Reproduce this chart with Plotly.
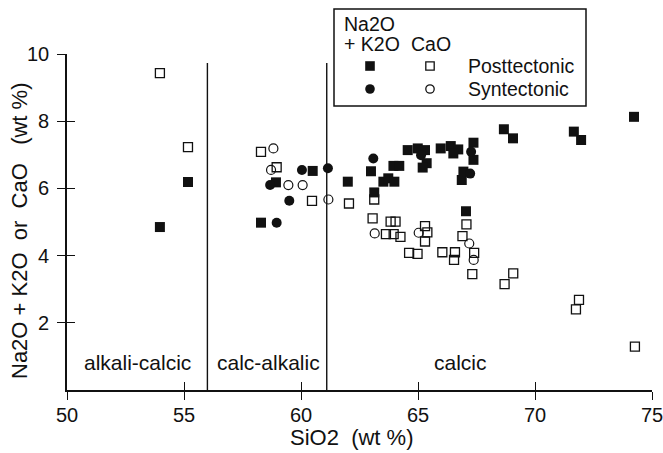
import plotly.graph_objects as go

# ---------------- data ----------------
# Posttectonic, Na2O + K2O (filled squares)
post_alk_sio2 = [53.97, 55.17, 58.29, 58.93, 60.50, 62.00, 62.99, 63.13, 63.52, 63.73,
                 63.99, 63.95, 64.20, 64.56, 64.99, 65.30, 65.37, 65.20, 65.97, 66.40,
                 66.72, 66.51, 67.37, 67.37, 66.94, 66.87, 67.05, 68.67, 69.06, 71.66,
                 71.97, 74.23]
post_alk = [4.85, 6.19, 4.98, 6.18, 6.52, 6.20, 6.51, 5.88, 6.20, 6.30,
            6.20, 6.67, 6.67, 7.14, 7.19, 7.14, 6.75, 6.62, 7.19, 7.26,
            7.16, 7.04, 7.36, 6.85, 6.50, 6.25, 5.32, 7.76, 7.49, 7.69,
            7.44, 8.13]

# Posttectonic, CaO (open squares)
post_cao_sio2 = [53.97, 55.17, 58.29, 58.96, 60.47, 62.05, 63.13, 63.06, 63.83, 64.04,
                 63.63, 63.96, 64.25, 65.30, 65.40, 65.30, 64.62, 64.98, 66.04, 66.58,
                 66.54, 67.07, 66.90, 67.40, 67.32, 69.07, 68.70, 71.88, 71.75, 74.27]
post_cao = [9.43, 7.23, 7.09, 6.63, 5.63, 5.55, 5.67, 5.11, 5.01, 5.01,
            4.64, 4.64, 4.56, 4.88, 4.69, 4.42, 4.08, 4.05, 4.10, 4.10,
            3.87, 4.93, 4.58, 4.08, 3.45, 3.47, 3.15, 2.68, 2.40, 1.29]

# Syntectonic, Na2O + K2O (filled circles)
syn_alk_sio2 = [58.68, 59.50, 58.96, 60.04, 61.15, 63.09, 65.13, 67.27, 67.23]
syn_alk = [6.10, 5.63, 4.98, 6.55, 6.60, 6.89, 6.99, 7.09, 6.44]

# Syntectonic, CaO (open circles)
syn_cao_sio2 = [58.82, 58.72, 59.46, 60.07, 61.17, 63.15, 65.03, 67.19, 67.38]
syn_cao = [7.19, 6.55, 6.10, 6.10, 5.67, 4.66, 4.68, 4.36, 3.87]

# field boundaries (SiO2) and labels
boundaries = [56.0, 61.1]
boundary_top = 9.73
field_labels = ["alkali-calcic", "calc-alkalic", "calcic"]
field_label_x = [53.0, 58.6, 66.8]
field_label_y = 0.83

x_ticks = [50, 55, 60, 65, 70, 75]
y_ticks = [2, 4, 6, 8, 10]

FONT = "Liberation Sans, Arial, Helvetica, sans-serif"
INK = "#111111"
NB = "\u00a0"
x_title = "SiO2" + NB * 2 + "(wt %)"
y_title = "Na2O + K2O" + NB * 2 + "or" + NB * 2 + "CaO" + NB * 3 + "(wt %)"

fig = go.Figure()

for bx in boundaries:
    fig.add_trace(go.Scatter(x=[bx, bx], y=[0, boundary_top], mode="lines",
                             line=dict(color=INK, width=1.4), showlegend=False,
                             hoverinfo="skip"))

fig.add_trace(go.Scatter(x=post_cao_sio2, y=post_cao, mode="markers", showlegend=False,
                         marker=dict(symbol="square-open", size=9, color=INK,
                                     line=dict(width=1.3, color=INK))))
fig.add_trace(go.Scatter(x=syn_cao_sio2, y=syn_cao, mode="markers", showlegend=False,
                         marker=dict(symbol="circle-open", size=9, color=INK,
                                     line=dict(width=1.2, color=INK))))
fig.add_trace(go.Scatter(x=post_alk_sio2, y=post_alk, mode="markers", showlegend=False,
                         marker=dict(symbol="square", size=10, color=INK,
                                     line=dict(width=0))))
fig.add_trace(go.Scatter(x=syn_alk_sio2, y=syn_alk, mode="markers", showlegend=False,
                         marker=dict(symbol="circle", size=10, color=INK,
                                     line=dict(width=0))))

# dummy trace for overlay axes (inside half of crossing ticks)
fig.add_trace(go.Scatter(x=[None], y=[None], xaxis="x2", yaxis="y2", showlegend=False))

for lab, lx in zip(field_labels, field_label_x):
    fig.add_annotation(x=lx, y=field_label_y, text=lab, showarrow=False,
                       xanchor="center", yanchor="middle",
                       font=dict(size=21, color=INK, family=FONT))

# ---------- page pixel -> paper coordinates (plot area x 67..652, y 54..390) ----------
def px2x(px):
    return (px - 67) / 585.0

def py2y(py):
    return (390 - py) / 336.0

# axis titles as annotations (placed as in the reference)
fig.add_annotation(xref="paper", yref="paper", x=px2x(351), y=py2y(437), text=x_title,
                   showarrow=False, xanchor="center", yanchor="middle",
                   font=dict(size=22, color=INK, family=FONT))
fig.add_annotation(xref="paper", yref="paper", x=px2x(19), y=py2y(231), text=y_title,
                   showarrow=False, xanchor="center", yanchor="middle", textangle=-90,
                   font=dict(size=22, color=INK, family=FONT))

# ---------- legend box (drawn manually) ----------
fig.add_shape(type="rect", xref="paper", yref="paper",
              x0=px2x(334), x1=px2x(586), y0=py2y(106), y1=py2y(9),
              line=dict(color=INK, width=1.5), fillcolor="white")

legend_marks = [
    ("rect", 370, 66, True),
    ("rect", 430, 66, False),
    ("circle", 370, 89, True),
    ("circle", 430, 89, False),
]
for kind, mx, my, filled in legend_marks:
    h = 4.8 if filled else 4.2
    fig.add_shape(type=kind, xref="paper", yref="paper",
                  xsizemode="pixel", ysizemode="pixel",
                  xanchor=px2x(mx), yanchor=py2y(my),
                  x0=-h, x1=h, y0=-h, y1=h,
                  line=dict(color=INK, width=0 if filled else 1.3),
                  fillcolor=INK if filled else "white")

legend_texts = [
    ("Na2O", 342, 24),
    ("+ K2O", 342, 44),
    ("CaO", 409, 44),
    ("Posttectonic", 466, 66),
    ("Syntectonic", 466, 89),
]
for t, tx, ty in legend_texts:
    fig.add_annotation(xref="paper", yref="paper", x=px2x(tx), y=py2y(ty), text=t,
                       showarrow=False, xanchor="left", yanchor="middle",
                       font=dict(size=19.5, color=INK, family=FONT))

fig.update_layout(
    width=663, height=453,
    margin=dict(l=67, r=11, t=54, b=63, autoexpand=False),
    paper_bgcolor="white", plot_bgcolor="white",
    font=dict(family=FONT, color=INK, size=20),
    xaxis=dict(range=[50, 75], tickvals=x_ticks, ticks="outside", ticklen=8,
               tickwidth=1.3, tickcolor=INK, showline=True, linecolor=INK, linewidth=1.6,
               showgrid=False, zeroline=False, tickfont=dict(size=20), automargin=False,
               ticklabelstandoff=-2, ticklabeloverflow="allow"),
    yaxis=dict(range=[0, 10], tickvals=y_ticks, ticks="outside", ticklen=8,
               tickwidth=1.3, tickcolor=INK, showline=True, linecolor=INK, linewidth=1.6,
               showgrid=False, zeroline=False, tickfont=dict(size=20), automargin=False,
               ticklabelstandoff=4, ticklabeloverflow="allow"),
    xaxis2=dict(overlaying="x", anchor="y2", range=[50, 75], tickvals=x_ticks,
                ticks="inside", ticklen=8, tickwidth=1.3, tickcolor=INK, automargin=False,
                showticklabels=False, showline=False, showgrid=False, zeroline=False),
    yaxis2=dict(overlaying="y", anchor="x2", side="left", range=[0, 10], tickvals=y_ticks,
                ticks="inside", ticklen=8, tickwidth=1.3, tickcolor=INK, automargin=False,
                showticklabels=False, showline=False, showgrid=False, zeroline=False),
)

# remove the default 8px page margin so the 663x453 figure fills the window exactly
fig.write_html("out.html",
               config={"displayModeBar": False},
               post_script="document.body.style.margin='0';document.body.style.overflow='hidden';")
